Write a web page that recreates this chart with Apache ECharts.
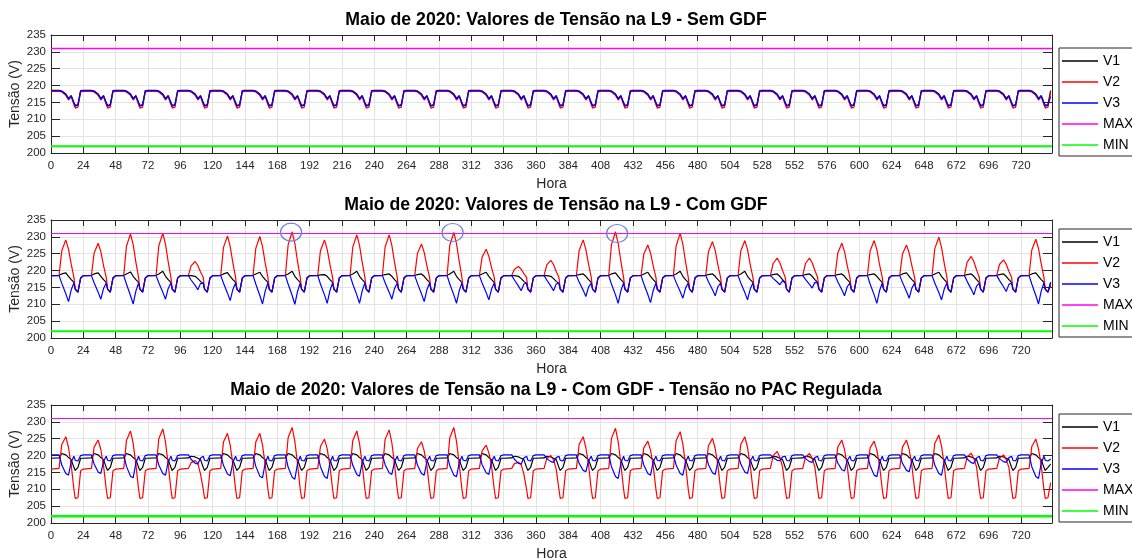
<!DOCTYPE html>
<html><head><meta charset="utf-8">
<script src="https://cdn.jsdelivr.net/npm/echarts@6/dist/echarts.min.js"></script>
<style>html,body{margin:0;padding:0;background:#fff}#c{width:1132px;height:558px}</style>
</head><body><div id="c"></div>
<script>
// sample hours within each day (x = day*24 + hour)
const HOURS = [0, 6, 8, 11, 13, 15, 17, 18, 20, 22];
const X_MAX = 743;
const LIMIT_MAX = 231;
const LIMIT_MIN = 202;
const TITLES = [
  'Maio de 2020: Valores de Tensão na L9 - Sem GDF',
  'Maio de 2020: Valores de Tensão na L9 - Com GDF',
  'Maio de 2020: Valores de Tensão na L9 - Com GDF - Tensão no PAC Regulada'
];
const NAMES = ['V1', 'V2', 'V3', 'MAX', 'MIN'];
const X_NAME = 'Hora';
const Y_NAME = 'Tensão (V)';
// annotation ellipses on panel 2 (hour, volts)
const CIRCLES = [[178.2, 231.4], [298.1, 231.3], [420.2, 231.0]];

// ---------- Panel 1: Sem GDF ----------
const P1_V1 = [
218.6,218.6,218.4,217.5,216.2,217.0,215.0,214.1,214.4,218.5,
218.6,218.6,218.4,217.5,216.2,217.0,215.0,214.1,214.4,218.5,
218.6,218.6,218.4,217.5,216.2,217.0,215.0,214.1,214.4,218.5,
218.6,218.6,218.4,217.5,216.2,217.0,215.0,214.1,214.4,218.5,
218.6,218.6,218.4,217.5,216.2,217.0,215.0,214.1,214.4,218.5,
218.6,218.6,218.4,217.5,216.2,217.0,215.0,214.1,214.4,218.5,
218.6,218.6,218.4,217.5,216.2,217.0,215.0,214.1,214.4,218.5,
218.6,218.6,218.4,217.5,216.2,217.0,215.0,214.1,214.4,218.5,
218.6,218.6,218.4,217.5,216.2,217.0,215.0,214.1,214.4,218.5,
218.6,218.6,218.4,217.5,216.2,217.0,215.0,214.1,214.4,218.5,
218.6,218.6,218.4,217.5,216.2,217.0,215.0,214.1,214.4,218.5,
218.6,218.6,218.4,217.5,216.2,217.0,215.0,214.1,214.4,218.5,
218.6,218.6,218.4,217.5,216.2,217.0,215.0,214.1,214.4,218.5,
218.6,218.6,218.4,217.5,216.2,217.0,215.0,214.1,214.4,218.5,
218.6,218.6,218.4,217.5,216.2,217.0,215.0,214.1,214.4,218.5,
218.6,218.6,218.4,217.5,216.2,217.0,215.0,214.1,214.4,218.5,
218.6,218.6,218.4,217.5,216.2,217.0,215.0,214.1,214.4,218.5,
218.6,218.6,218.4,217.5,216.2,217.0,215.0,214.1,214.4,218.5,
218.6,218.6,218.4,217.5,216.2,217.0,215.0,214.1,214.4,218.5,
218.6,218.6,218.4,217.5,216.2,217.0,215.0,214.1,214.4,218.5,
218.6,218.6,218.4,217.5,216.2,217.0,215.0,214.1,214.4,218.5,
218.6,218.6,218.4,217.5,216.2,217.0,215.0,214.1,214.4,218.5,
218.6,218.6,218.4,217.5,216.2,217.0,215.0,214.1,214.4,218.5,
218.6,218.6,218.4,217.5,216.2,217.0,215.0,214.1,214.4,218.5,
218.6,218.6,218.4,217.5,216.2,217.0,215.0,214.1,214.4,218.5,
218.6,218.6,218.4,217.5,216.2,217.0,215.0,214.1,214.4,218.5,
218.6,218.6,218.4,217.5,216.2,217.0,215.0,214.1,214.4,218.5,
218.6,218.6,218.4,217.5,216.2,217.0,215.0,214.1,214.4,218.5,
218.6,218.6,218.4,217.5,216.2,217.0,215.0,214.1,214.4,218.5,
218.6,218.6,218.4,217.5,216.2,217.0,215.0,214.1,214.4,218.5,
218.6,218.6,218.4,217.5,216.2,217.0,215.0,214.1,214.4,218.5];
const P1_V2 = [
218.3,218.3,218.1,217.1,215.7,216.7,214.4,213.3,213.6,218.1,
218.3,218.3,218.1,217.1,215.7,216.7,214.4,213.3,213.6,218.1,
218.3,218.3,218.1,217.1,215.7,216.7,214.4,213.3,213.6,218.1,
218.3,218.3,218.1,217.1,215.7,216.7,214.4,213.3,213.6,218.1,
218.3,218.3,218.1,217.1,215.7,216.7,214.4,213.3,213.6,218.1,
218.3,218.3,218.1,217.1,215.7,216.7,214.4,213.3,213.6,218.1,
218.3,218.3,218.1,217.1,215.7,216.7,214.4,213.3,213.6,218.1,
218.3,218.3,218.1,217.1,215.7,216.7,214.4,213.3,213.6,218.1,
218.3,218.3,218.1,217.1,215.7,216.7,214.4,213.3,213.6,218.1,
218.3,218.3,218.1,217.1,215.7,216.7,214.4,213.3,213.6,218.1,
218.3,218.3,218.1,217.1,215.7,216.7,214.4,213.3,213.6,218.1,
218.3,218.3,218.1,217.1,215.7,216.7,214.4,213.3,213.6,218.1,
218.3,218.3,218.1,217.1,215.7,216.7,214.4,213.3,213.6,218.1,
218.3,218.3,218.1,217.1,215.7,216.7,214.4,213.3,213.6,218.1,
218.3,218.3,218.1,217.1,215.7,216.7,214.4,213.3,213.6,218.1,
218.3,218.3,218.1,217.1,215.7,216.7,214.4,213.3,213.6,218.1,
218.3,218.3,218.1,217.1,215.7,216.7,214.4,213.3,213.6,218.1,
218.3,218.3,218.1,217.1,215.7,216.7,214.4,213.3,213.6,218.1,
218.3,218.3,218.1,217.1,215.7,216.7,214.4,213.3,213.6,218.1,
218.3,218.3,218.1,217.1,215.7,216.7,214.4,213.3,213.6,218.1,
218.3,218.3,218.1,217.1,215.7,216.7,214.4,213.3,213.6,218.1,
218.3,218.3,218.1,217.1,215.7,216.7,214.4,213.3,213.6,218.1,
218.3,218.3,218.1,217.1,215.7,216.7,214.4,213.3,213.6,218.1,
218.3,218.3,218.1,217.1,215.7,216.7,214.4,213.3,213.6,218.1,
218.3,218.3,218.1,217.1,215.7,216.7,214.4,213.3,213.6,218.1,
218.3,218.3,218.1,217.1,215.7,216.7,214.4,213.3,213.6,218.1,
218.3,218.3,218.1,217.1,215.7,216.7,214.4,213.3,213.6,218.1,
218.3,218.3,218.1,217.1,215.7,216.7,214.4,213.3,213.6,218.1,
218.3,218.3,218.1,217.1,215.7,216.7,214.4,213.3,213.6,218.1,
218.3,218.3,218.1,217.1,215.7,216.7,214.4,213.3,213.6,218.1,
218.3,218.3,218.1,217.1,215.7,216.7,214.4,213.3,213.6,218.1];
const P1_V3 = [
218.5,218.5,218.3,217.4,216.0,217.0,214.8,213.9,214.2,218.4,
218.5,218.5,218.3,217.4,216.0,217.0,214.8,213.9,214.2,218.4,
218.5,218.5,218.3,217.4,216.0,217.0,214.8,213.9,214.2,218.4,
218.5,218.5,218.3,217.4,216.0,217.0,214.8,213.9,214.2,218.4,
218.5,218.5,218.3,217.4,216.0,217.0,214.8,213.9,214.2,218.4,
218.5,218.5,218.3,217.4,216.0,217.0,214.8,213.9,214.2,218.4,
218.5,218.5,218.3,217.4,216.0,217.0,214.8,213.9,214.2,218.4,
218.5,218.5,218.3,217.4,216.0,217.0,214.8,213.9,214.2,218.4,
218.5,218.5,218.3,217.4,216.0,217.0,214.8,213.9,214.2,218.4,
218.5,218.5,218.3,217.4,216.0,217.0,214.8,213.9,214.2,218.4,
218.5,218.5,218.3,217.4,216.0,217.0,214.8,213.9,214.2,218.4,
218.5,218.5,218.3,217.4,216.0,217.0,214.8,213.9,214.2,218.4,
218.5,218.5,218.3,217.4,216.0,217.0,214.8,213.9,214.2,218.4,
218.5,218.5,218.3,217.4,216.0,217.0,214.8,213.9,214.2,218.4,
218.5,218.5,218.3,217.4,216.0,217.0,214.8,213.9,214.2,218.4,
218.5,218.5,218.3,217.4,216.0,217.0,214.8,213.9,214.2,218.4,
218.5,218.5,218.3,217.4,216.0,217.0,214.8,213.9,214.2,218.4,
218.5,218.5,218.3,217.4,216.0,217.0,214.8,213.9,214.2,218.4,
218.5,218.5,218.3,217.4,216.0,217.0,214.8,213.9,214.2,218.4,
218.5,218.5,218.3,217.4,216.0,217.0,214.8,213.9,214.2,218.4,
218.5,218.5,218.3,217.4,216.0,217.0,214.8,213.9,214.2,218.4,
218.5,218.5,218.3,217.4,216.0,217.0,214.8,213.9,214.2,218.4,
218.5,218.5,218.3,217.4,216.0,217.0,214.8,213.9,214.2,218.4,
218.5,218.5,218.3,217.4,216.0,217.0,214.8,213.9,214.2,218.4,
218.5,218.5,218.3,217.4,216.0,217.0,214.8,213.9,214.2,218.4,
218.5,218.5,218.3,217.4,216.0,217.0,214.8,213.9,214.2,218.4,
218.5,218.5,218.3,217.4,216.0,217.0,214.8,213.9,214.2,218.4,
218.5,218.5,218.3,217.4,216.0,217.0,214.8,213.9,214.2,218.4,
218.5,218.5,218.3,217.4,216.0,217.0,214.8,213.9,214.2,218.4,
218.5,218.5,218.3,217.4,216.0,217.0,214.8,213.9,214.2,218.4,
218.5,218.5,218.3,217.4,216.0,217.0,214.8,213.9,214.2,216.8];

// ---------- Panel 2: Com GDF ----------
const P2_V1 = [
218.5,218.6,219.0,219.3,218.3,217.3,216.5,214.5,213.6,217.8,
218.5,218.6,219.0,219.3,218.3,217.3,216.5,214.5,213.6,217.8,
218.5,218.6,219.0,219.6,218.3,217.3,216.5,214.5,213.6,217.8,
218.5,218.6,219.0,219.8,218.3,217.3,216.5,214.5,213.6,217.8,
218.5,218.5,218.5,218.3,217.6,216.8,216.2,214.5,213.6,217.8,
218.5,218.6,219.0,219.4,218.3,217.3,216.5,214.5,213.6,217.8,
218.5,218.6,219.0,219.5,218.3,217.3,216.5,214.5,213.6,217.8,
218.5,218.6,219.0,219.8,218.3,217.3,216.5,214.5,213.6,217.8,
218.5,218.6,218.7,218.8,218.3,217.3,216.5,214.5,213.6,217.8,
218.5,218.6,219.0,219.8,218.3,217.3,216.5,214.5,213.6,217.8,
218.5,218.6,218.8,219.0,218.3,217.3,216.5,214.5,213.6,217.8,
218.5,218.6,218.8,219.0,218.3,217.3,216.5,214.5,213.6,217.8,
218.5,218.6,219.0,219.8,218.3,217.3,216.5,214.5,213.6,217.8,
218.5,218.6,219.0,219.5,218.3,217.3,216.5,214.5,213.6,217.8,
218.5,218.5,218.5,218.3,217.6,216.8,216.2,214.5,213.6,217.8,
218.5,218.5,218.5,218.3,217.6,216.8,216.2,214.5,213.6,217.8,
218.5,218.6,218.8,219.0,218.3,217.3,216.5,214.5,213.6,217.8,
218.5,218.6,219.0,219.3,218.3,217.3,216.5,214.5,213.6,217.8,
218.5,218.6,219.0,219.5,218.3,217.3,216.5,214.5,213.6,217.8,
218.5,218.6,219.0,219.8,218.3,217.3,216.5,214.5,213.6,217.8,
218.5,218.6,218.8,219.0,218.3,217.3,216.5,214.5,213.6,217.8,
218.5,218.6,219.0,219.8,218.3,217.3,216.5,214.5,213.6,217.8,
218.5,218.6,218.8,219.0,218.3,217.3,216.5,214.5,213.6,217.8,
218.5,218.6,218.8,219.0,218.3,217.3,216.5,214.5,213.6,217.8,
218.5,218.6,218.8,219.0,218.3,217.3,216.5,214.5,213.6,217.8,
218.5,218.6,218.8,219.0,218.3,217.3,216.5,214.5,213.6,217.8,
218.5,218.6,219.0,219.3,218.3,217.3,216.5,214.5,213.6,217.8,
218.5,218.6,219.0,219.5,218.3,217.3,216.5,214.5,213.6,217.8,
218.5,218.6,218.8,219.0,218.3,217.3,216.5,214.5,213.6,217.8,
218.5,218.6,218.8,219.0,218.3,217.3,216.5,214.5,213.6,217.8,
218.5,218.6,219.0,219.3,218.3,217.3,216.5,214.5,213.6,216.5];
const P2_V2 = [
218.5,218.6,225.9,229.1,226.3,221.9,218.0,214.5,213.6,217.8,
218.5,218.6,225.2,228.1,225.6,221.5,218.0,214.5,213.6,217.8,
218.5,218.6,227.2,230.9,227.7,222.5,218.0,214.5,213.6,217.8,
218.5,218.6,227.3,231.1,227.8,222.6,218.0,214.5,213.6,217.8,
218.5,218.6,221.4,222.7,221.5,219.6,218.0,214.5,213.6,217.8,
218.5,218.6,226.8,230.3,227.2,222.3,218.0,214.5,213.6,217.8,
218.5,218.6,226.6,230.1,227.1,222.2,218.0,214.5,213.6,217.8,
218.5,218.6,227.6,231.5,228.1,222.7,218.0,214.5,213.6,217.8,
218.5,218.6,225.9,229.1,226.3,221.9,218.0,214.5,213.6,217.8,
218.5,218.6,227.0,230.6,227.5,222.4,218.0,214.5,213.6,217.8,
218.5,218.6,227.0,230.6,227.5,222.4,218.0,214.5,213.6,217.8,
218.5,218.6,225.1,227.9,225.4,221.5,218.0,214.5,213.6,217.8,
218.5,218.6,227.5,231.3,228.0,222.7,218.0,214.5,213.6,217.8,
218.5,218.6,224.0,226.3,224.2,220.9,218.0,214.5,213.6,217.8,
218.5,218.6,220.4,221.2,220.4,219.1,218.0,214.5,213.6,217.8,
218.5,218.6,221.7,223.0,221.8,219.7,218.0,214.5,213.6,217.8,
218.5,218.6,225.9,229.1,226.3,221.9,218.0,214.5,213.6,217.8,
218.5,218.6,227.6,231.5,228.1,222.7,218.0,214.5,213.6,217.8,
218.5,218.6,224.9,227.6,225.2,221.4,218.0,214.5,213.6,217.8,
218.5,218.6,227.3,231.1,227.8,222.6,218.0,214.5,213.6,217.8,
218.5,218.6,225.6,228.6,226.0,221.7,218.0,214.5,213.6,217.8,
218.5,218.6,225.8,228.9,226.2,221.8,218.0,214.5,213.6,217.8,
218.5,218.6,222.1,223.7,222.3,220.0,218.0,214.5,213.6,217.8,
218.5,218.6,222.1,223.7,222.3,220.0,218.0,214.5,213.6,217.8,
218.5,218.6,225.2,228.1,225.6,221.5,218.0,214.5,213.6,217.8,
218.5,218.6,225.8,228.9,226.2,221.8,218.0,214.5,213.6,217.8,
218.5,218.6,224.9,227.6,225.2,221.4,218.0,214.5,213.6,217.8,
218.5,218.6,226.5,229.9,226.9,222.2,218.0,214.5,213.6,217.8,
218.5,218.6,222.5,224.2,222.7,220.2,218.0,214.5,213.6,217.8,
218.5,218.6,221.8,223.2,221.9,219.8,218.0,214.5,213.6,217.8,
218.5,218.6,226.1,229.3,226.5,222.0,218.0,214.5,213.6,215.5];
const P2_V3 = [
218.5,218.5,216.2,213.1,210.8,214.3,216.3,214.5,213.6,217.8,
218.5,218.5,216.4,213.6,211.5,214.7,216.3,214.5,213.6,217.8,
218.5,218.5,216.0,212.6,210.1,213.9,216.3,214.5,213.6,217.8,
218.5,218.5,216.4,213.6,211.5,214.7,216.3,214.5,213.6,217.8,
218.5,218.5,217.2,215.6,214.3,216.2,216.3,214.5,213.6,217.8,
218.5,218.5,216.3,213.3,211.1,214.4,216.3,214.5,213.6,217.8,
218.5,218.5,216.0,212.6,210.1,213.9,216.3,214.5,213.6,217.8,
218.5,218.5,216.0,212.6,210.0,213.8,216.3,214.5,213.6,217.8,
218.5,218.5,216.0,212.8,210.3,214.0,216.3,214.5,213.6,217.8,
218.5,218.5,216.0,212.8,210.3,214.0,216.3,214.5,213.6,217.8,
218.5,218.5,216.4,213.6,211.5,214.7,216.3,214.5,213.6,217.8,
218.5,218.5,216.2,213.1,210.8,214.3,216.3,214.5,213.6,217.8,
218.5,218.5,216.0,212.8,210.3,214.0,216.3,214.5,213.6,217.8,
218.5,218.5,216.3,213.5,211.3,214.5,216.3,214.5,213.6,217.8,
218.5,218.5,217.2,215.4,214.0,216.0,216.3,214.5,213.6,217.8,
218.5,218.5,217.2,215.4,214.0,216.0,216.3,214.5,213.6,217.8,
218.5,218.5,216.6,214.2,212.3,215.1,216.3,214.5,213.6,217.8,
218.5,218.5,216.0,212.8,210.3,214.0,216.3,214.5,213.6,217.8,
218.5,218.5,216.1,212.9,210.5,214.1,216.3,214.5,213.6,217.8,
218.5,218.5,216.5,213.8,211.8,214.8,216.3,214.5,213.6,217.8,
218.5,218.5,216.7,214.3,212.5,215.2,216.3,214.5,213.6,217.8,
218.5,218.5,216.3,213.5,211.3,214.5,216.3,214.5,213.6,217.8,
218.5,218.5,217.7,216.6,215.8,217.0,216.3,214.5,213.6,217.8,
218.5,218.5,217.4,215.9,214.8,216.5,216.3,214.5,213.6,217.8,
218.5,218.5,216.7,214.3,212.5,215.2,216.3,214.5,213.6,217.8,
218.5,218.5,216.0,212.8,210.3,214.0,216.3,214.5,213.6,217.8,
218.5,218.5,216.5,213.8,211.8,214.8,216.3,214.5,213.6,217.8,
218.5,218.5,216.3,213.5,211.3,214.5,216.3,214.5,213.6,217.8,
218.5,218.5,216.8,214.5,212.8,215.4,216.3,214.5,213.6,217.8,
218.5,218.5,217.1,215.2,213.8,215.9,216.3,214.5,213.6,217.8,
218.5,218.5,216.0,212.6,210.1,213.9,216.3,214.5,213.6,216.5];

// ---------- Panel 3: Com GDF - Tensão no PAC Regulada ----------
const P3_V1 = [
219.2,219.3,220.6,220.2,219.4,218.8,216.5,215.6,216.5,219.2,
219.2,219.3,220.6,220.2,219.4,218.8,216.5,215.6,216.5,219.2,
219.2,219.3,220.6,220.2,219.4,218.8,216.5,215.6,216.5,219.2,
219.2,219.3,220.6,220.2,219.4,218.8,216.5,215.6,216.5,219.2,
219.2,219.3,219.8,219.6,219.2,218.8,216.5,215.6,216.5,219.2,
219.2,219.3,220.6,220.2,219.4,218.8,216.5,215.6,216.5,219.2,
219.2,219.3,220.6,220.2,219.4,218.8,216.5,215.6,216.5,219.2,
219.2,219.3,220.6,220.2,219.4,218.8,216.5,215.6,216.5,219.2,
219.2,219.3,220.6,220.2,219.4,218.8,216.5,215.6,216.5,219.2,
219.2,219.3,220.6,220.2,219.4,218.8,216.5,215.6,216.5,219.2,
219.2,219.3,220.6,220.2,219.4,218.8,216.5,215.6,216.5,219.2,
219.2,219.3,220.6,220.2,219.4,218.8,216.5,215.6,216.5,219.2,
219.2,219.3,220.6,220.2,219.4,218.8,216.5,215.6,216.5,219.2,
219.2,219.3,220.6,220.2,219.4,218.8,216.5,215.6,216.5,219.2,
219.2,219.3,219.8,219.6,219.2,218.8,216.5,215.6,216.5,219.2,
219.2,219.3,219.8,219.6,219.2,218.8,216.5,215.6,216.5,219.2,
219.2,219.3,220.6,220.2,219.4,218.8,216.5,215.6,216.5,219.2,
219.2,219.3,220.6,220.2,219.4,218.8,216.5,215.6,216.5,219.2,
219.2,219.3,220.6,220.2,219.4,218.8,216.5,215.6,216.5,219.2,
219.2,219.3,220.6,220.2,219.4,218.8,216.5,215.6,216.5,219.2,
219.2,219.3,220.6,220.2,219.4,218.8,216.5,215.6,216.5,219.2,
219.2,219.3,220.6,220.2,219.4,218.8,216.5,215.6,216.5,219.2,
219.2,219.3,219.8,219.6,219.2,218.8,216.5,215.6,216.5,219.2,
219.2,219.3,219.8,219.6,219.2,218.8,216.5,215.6,216.5,219.2,
219.2,219.3,220.6,220.2,219.4,218.8,216.5,215.6,216.5,219.2,
219.2,219.3,220.6,220.2,219.4,218.8,216.5,215.6,216.5,219.2,
219.2,219.3,220.6,220.2,219.4,218.8,216.5,215.6,216.5,219.2,
219.2,219.3,220.6,220.2,219.4,218.8,216.5,215.6,216.5,219.2,
219.2,219.3,219.8,219.6,219.2,218.8,216.5,215.6,216.5,219.2,
219.2,219.3,219.8,219.6,219.2,218.8,216.5,215.6,216.5,219.2,
219.2,219.3,220.6,220.2,219.4,218.8,216.5,215.6,216.5,217.5];
const P3_V2 = [
216.0,216.2,223.3,225.6,222.4,217.2,210.0,207.3,207.5,215.5,
216.0,216.2,222.5,224.6,221.8,217.0,210.0,207.3,207.5,215.5,
216.0,216.2,224.5,227.3,223.6,217.4,210.0,207.3,207.5,215.5,
216.0,216.2,225.0,227.9,224.0,217.4,210.0,207.3,207.5,215.5,
216.0,216.2,217.9,218.5,217.7,214.5,210.0,207.3,207.5,215.5,
216.0,216.2,224.0,226.6,223.1,217.3,210.0,207.3,207.5,215.5,
216.0,216.2,224.0,226.6,223.1,217.3,210.0,207.3,207.5,215.5,
216.0,216.2,225.3,228.3,224.2,217.5,210.0,207.3,207.5,215.5,
216.0,216.2,222.7,224.9,222.0,217.1,210.0,207.3,207.5,215.5,
216.0,216.2,224.5,227.3,223.6,217.4,210.0,207.3,207.5,215.5,
216.0,216.2,224.8,227.6,223.8,217.4,210.0,207.3,207.5,215.5,
216.0,216.2,222.1,224.1,221.4,217.0,210.0,207.3,207.5,215.5,
216.0,216.2,225.3,228.3,224.2,217.5,210.0,207.3,207.5,215.5,
216.0,216.2,221.4,223.1,220.8,216.9,210.0,207.3,207.5,215.5,
216.0,216.2,217.6,218.0,217.3,214.5,210.0,207.3,207.5,215.5,
216.0,216.2,219.1,220.0,218.7,216.0,210.0,207.3,207.5,215.5,
216.0,216.2,223.3,225.6,222.4,217.2,210.0,207.3,207.5,215.5,
216.0,216.2,225.1,228.1,224.1,217.5,210.0,207.3,207.5,215.5,
216.0,216.2,222.3,224.3,221.6,217.0,210.0,207.3,207.5,215.5,
216.0,216.2,224.4,227.1,223.4,217.3,210.0,207.3,207.5,215.5,
216.0,216.2,222.9,225.1,222.1,217.1,210.0,207.3,207.5,215.5,
216.0,216.2,223.3,225.6,222.4,217.2,210.0,207.3,207.5,215.5,
216.0,216.2,220.0,221.2,219.5,216.6,210.0,207.3,207.5,215.5,
216.0,216.2,219.5,220.6,219.1,216.6,210.0,207.3,207.5,215.5,
216.0,216.2,222.5,224.6,221.8,217.0,210.0,207.3,207.5,215.5,
216.0,216.2,222.3,224.3,221.6,217.0,210.0,207.3,207.5,215.5,
216.0,216.2,222.5,224.6,221.8,217.0,210.0,207.3,207.5,215.5,
216.0,216.2,223.6,226.1,222.8,217.2,210.0,207.3,207.5,215.5,
216.0,216.2,219.6,220.7,219.1,216.6,210.0,207.3,207.5,215.5,
216.0,216.2,219.2,220.2,218.8,216.5,210.0,207.3,207.5,215.5,
216.0,216.2,222.7,224.9,222.0,217.1,210.0,207.3,207.5,212.0];
const P3_V3 = [
220.2,220.2,217.2,214.7,214.2,218.1,219.8,218.6,218.4,220.0,
220.2,220.2,217.5,215.1,214.7,218.3,219.8,218.6,218.4,220.0,
220.2,220.2,216.8,213.9,213.4,217.8,219.8,218.6,218.4,220.0,
220.2,220.2,217.2,214.7,214.2,218.1,219.8,218.6,218.4,220.0,
220.2,220.2,218.9,217.7,217.5,219.3,219.8,218.6,218.4,220.0,
220.2,220.2,217.1,214.5,214.0,218.0,219.8,218.6,218.4,220.0,
220.2,220.2,216.8,213.9,213.4,217.8,219.8,218.6,218.4,220.0,
220.2,220.2,216.6,213.6,213.0,217.7,219.8,218.6,218.4,220.0,
220.2,220.2,216.7,213.8,213.2,217.8,219.8,218.6,218.4,220.0,
220.2,220.2,217.1,214.4,213.9,218.0,219.8,218.6,218.4,220.0,
220.2,220.2,217.3,214.9,214.4,218.2,219.8,218.6,218.4,220.0,
220.2,220.2,217.2,214.7,214.2,218.1,219.8,218.6,218.4,220.0,
220.2,220.2,217.0,214.2,213.7,217.9,219.8,218.6,218.4,220.0,
220.2,220.2,217.3,214.9,214.4,218.2,219.8,218.6,218.4,220.0,
220.2,220.2,218.9,217.7,217.5,219.3,219.8,218.6,218.4,220.0,
220.2,220.2,219.1,218.2,218.0,219.4,219.8,218.6,218.4,220.0,
220.2,220.2,217.7,215.6,215.2,218.5,219.8,218.6,218.4,220.0,
220.2,220.2,216.7,213.8,213.2,217.8,219.8,218.6,218.4,220.0,
220.2,220.2,217.2,214.7,214.2,218.1,219.8,218.6,218.4,220.0,
220.2,220.2,217.2,214.7,214.2,218.1,219.8,218.6,218.4,220.0,
220.2,220.2,217.3,214.9,214.4,218.2,219.8,218.6,218.4,220.0,
220.2,220.2,217.5,215.1,214.7,218.3,219.8,218.6,218.4,220.0,
220.2,220.2,219.4,218.6,218.5,219.6,219.8,218.6,218.4,220.0,
220.2,220.2,219.1,218.2,218.0,219.4,219.8,218.6,218.4,220.0,
220.2,220.2,217.8,215.8,215.4,218.5,219.8,218.6,218.4,220.0,
220.2,220.2,217.0,214.2,213.7,217.9,219.8,218.6,218.4,220.0,
220.2,220.2,217.7,215.6,215.2,218.5,219.8,218.6,218.4,220.0,
220.2,220.2,217.2,214.7,214.2,218.1,219.8,218.6,218.4,220.0,
220.2,220.2,219.0,217.9,217.7,219.3,219.8,218.6,218.4,220.0,
220.2,220.2,219.1,218.2,218.0,219.4,219.8,218.6,218.4,220.0,
220.2,220.2,216.7,213.8,213.2,217.8,219.8,218.6,218.4,219.0];

function toXY(vals) {
  const n = HOURS.length;
  return vals.map((v, i) => [Math.floor(i / n) * 24 + HOURS[i % n], v]);
}

const AX = '#262626';
const GRIDC = '#e3e3e3';
const FONT = '"Liberation Sans", Arial, Helvetica, sans-serif';
const LEGEND_ICON = 'path://M0,0 L36,0 L36,1.3 L0,1.3 Z';

const PANELS = [
  { title: TITLES[0], data: [P1_V1, P1_V2, P1_V3], top: 35, legendTop: 48, maxW: 1.5, minW: 2 },
  { title: TITLES[1], data: [P2_V1, P2_V2, P2_V3], top: 220, legendTop: 229, maxW: 1.2, minW: 2 },
  { title: TITLES[2], data: [P3_V1, P3_V2, P3_V3], top: 405, legendTop: 414, maxW: 1.2, minW: 2.5 }
];
const PLOT_H = 118;

const option = {
  animation: false,
  backgroundColor: '#fff',
  textStyle: { fontFamily: FONT },
  title: [], grid: [], xAxis: [], yAxis: [], series: [], legend: []
};

PANELS.forEach((p, i) => {
  option.title.push({
    text: p.title, left: 551, top: p.top - 29, textAlign: 'center',
    textStyle: { fontFamily: FONT, fontSize: 17.7, fontWeight: 'bold', color: '#000' }
  });
  option.grid.push({ left: 51, right: 80, top: p.top, height: PLOT_H, containLabel: false, outerBoundsMode: 'none' });
  option.xAxis.push({
    type: 'value', gridIndex: i, position: 'bottom', min: 0, max: X_MAX, interval: 24,
    axisLine: { show: true, onZero: false, lineStyle: { color: AX, width: 1 } },
    axisTick: { show: true, inside: true, length: 6, lineStyle: { color: AX } },
    axisLabel: { color: AX, fontSize: 11.5, margin: 7, showMaxLabel: false, fontFamily: FONT },
    splitLine: { show: true, lineStyle: { color: GRIDC, width: 1 } },
    name: X_NAME, nameLocation: 'middle', nameGap: 24, nameMoveOverlap: false,
    nameTextStyle: { color: AX, fontSize: 14, fontFamily: FONT }
  });
  option.xAxis.push({
    type: 'value', gridIndex: i, position: 'top', min: 0, max: X_MAX, interval: 24,
    axisLine: { show: true, onZero: false, lineStyle: { color: AX, width: 1 } },
    axisTick: { show: true, inside: true, length: 6, lineStyle: { color: AX } },
    axisLabel: { show: false }, splitLine: { show: false }
  });
  option.yAxis.push({
    type: 'value', gridIndex: i, position: 'left', min: 200, max: 235, interval: 5,
    axisLine: { show: true, onZero: false, lineStyle: { color: AX, width: 1 } },
    axisTick: { show: true, inside: true, length: 9, lineStyle: { color: AX } },
    axisLabel: { color: AX, fontSize: 11.5, margin: 5, fontFamily: FONT },
    splitLine: { show: true, lineStyle: { color: GRIDC, width: 1 } },
    name: Y_NAME, nameLocation: 'middle', nameGap: 29, nameMoveOverlap: false,
    nameTextStyle: { color: AX, fontSize: 14, fontFamily: FONT }
  });
  option.yAxis.push({
    type: 'value', gridIndex: i, position: 'right', min: 200, max: 235, interval: 5,
    axisLine: { show: true, onZero: false, lineStyle: { color: AX, width: 1 } },
    axisTick: { show: true, inside: true, length: 9, lineStyle: { color: AX } },
    axisLabel: { show: false }, splitLine: { show: false }
  });
  const colors = ['#000000', '#ff0000', '#0000ff'];
  p.data.forEach((arr, k) => {
    const s = {
      name: NAMES[k], type: 'line', xAxisIndex: i * 2, yAxisIndex: i * 2,
      data: toXY(arr), symbol: 'none', showSymbol: false, clip: true, silent: true,
      lineStyle: { color: colors[k], width: 1.2 }, itemStyle: { color: colors[k] }
    };
    if (i === 1 && k === 1) {
      s.markPoint = {
        symbol: 'circle', symbolSize: [21, 18], silent: true,
        itemStyle: { color: 'rgba(0,0,0,0)', borderColor: '#6f7fd9', borderWidth: 1.2 },
        label: { show: false },
        data: CIRCLES.map(c => ({ coord: c }))
      };
    }
    option.series.push(s);
  });
  option.series.push({
    name: 'MAX', type: 'line', xAxisIndex: i * 2, yAxisIndex: i * 2, symbol: 'none', silent: true,
    data: [[0, LIMIT_MAX], [X_MAX, LIMIT_MAX]],
    lineStyle: { color: '#ff00ff', width: p.maxW }, itemStyle: { color: '#ff00ff' }
  });
  option.series.push({
    name: 'MIN', type: 'line', xAxisIndex: i * 2, yAxisIndex: i * 2, symbol: 'none', silent: true,
    data: [[0, LIMIT_MIN], [X_MAX, LIMIT_MIN]],
    lineStyle: { color: '#00ff00', width: p.minW }, itemStyle: { color: '#00ff00' }
  });
  option.legend.push({
    data: NAMES.map(n => ({ name: n, icon: LEGEND_ICON })),
    orient: 'vertical', left: 1059, top: p.legendTop,
    itemWidth: 36, itemHeight: 14, itemGap: 7, padding: [6, 40, 4, 3],
    borderColor: AX, borderWidth: 1, backgroundColor: '#fff', selectedMode: false,
    itemStyle: { borderWidth: 0 },
    textStyle: { fontSize: 14, color: '#000', fontFamily: FONT, lineHeight: 14 }
  });
});

const chart = echarts.init(document.getElementById('c'), null, { renderer: 'canvas' });
chart.setOption(option);
</script>
</body></html>
